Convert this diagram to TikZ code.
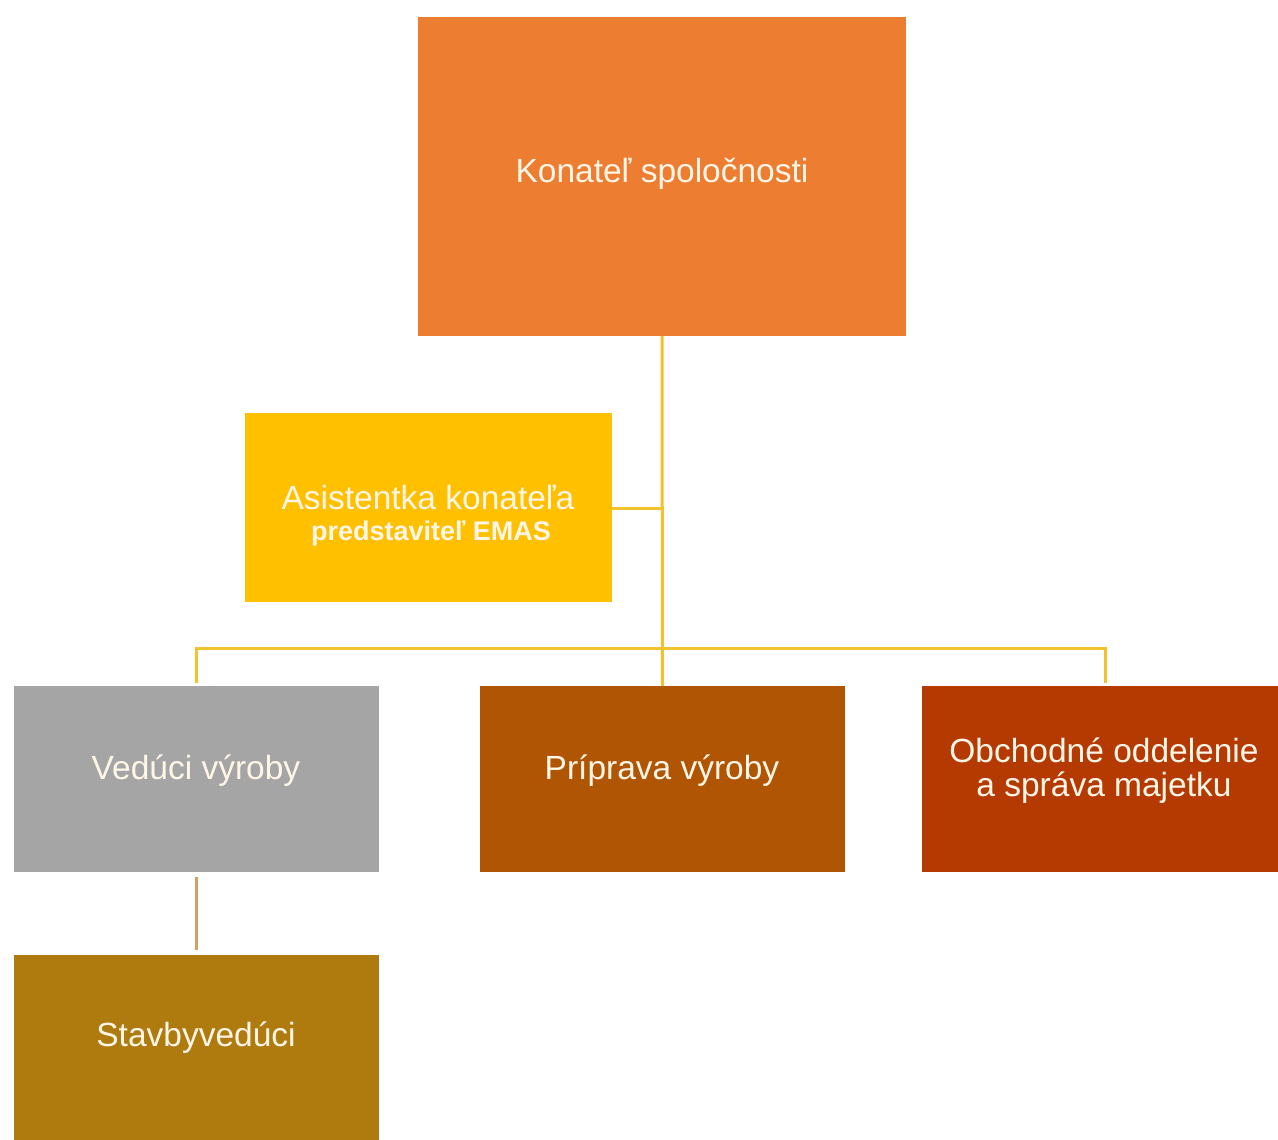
\documentclass[tikz,border=0pt]{standalone}
\usepackage{fontspec}
\setmainfont{Liberation Sans}
\definecolor{ctop}{HTML}{ED7D31}
\definecolor{casist}{HTML}{FFC000}
\definecolor{cgray}{HTML}{A5A5A5}
\definecolor{cprip}{HTML}{B05503}
\definecolor{cobch}{HTML}{B43A02}
\definecolor{cstav}{HTML}{AF7B0F}
\definecolor{cline}{HTML}{F2C12E}
\definecolor{cline2}{HTML}{D4A060}
\definecolor{ctext}{HTML}{FFF6E8}
\begin{document}
\begin{tikzpicture}[x=1pt,y=-1pt,
  box/.style={draw=none,rectangle,inner sep=0pt},
  lbl/.style={text=ctext,align=center,inner sep=0pt,font=\fontsize{33.5}{34}\selectfont},
  conn/.style={draw=cline,line width=3pt},
  conn2/.style={draw=cline2,line width=3pt}]
\useasboundingbox (0,0) rectangle (1278,1140);
% boxes
\node[box,fill=ctop,minimum width=488pt,minimum height=319pt] (top) at (662,176.5) {};
\node[box,fill=casist,minimum width=367pt,minimum height=189pt] (asist) at (428.5,507.5) {};
\node[box,fill=cgray,minimum width=365pt,minimum height=186pt] (ved) at (196.5,779) {};
\node[box,fill=cprip,minimum width=365pt,minimum height=186pt] (prip) at (662.5,779) {};
\node[box,fill=cobch,minimum width=356pt,minimum height=186pt] (obch) at (1100,779) {};
\node[box,fill=cstav,minimum width=365pt,minimum height=185pt] (stav) at (196.5,1047.5) {};
% labels
\node[lbl] (ttop) at (662,174) {Konateľ spoločnosti};
\node[lbl] (tasist1) at (428,498) {Asistentka konateľa};
\node[lbl,font=\bfseries\fontsize{27}{30}\selectfont] (tasist2) at (431,534) {predstaviteľ EMAS};
\node[lbl] (tved) at (196,771) {Vedúci výroby};
\node[lbl] (tprip) at (662,771) {Príprava výroby};
\node[lbl] (tobch) at (1104,771) {Obchodné oddelenie\\a správa majetku};
\node[lbl] (tstav) at (196,1038) {Stavbyvedúci};
% connectors
\coordinate (asj) at (662,508);
\coordinate (barL) at (196,648);
\coordinate (barR) at (1105,648);
\coordinate (obchN) at (1105,683);
\coordinate (vedN) at (196,683);
\draw[conn] (top.south) -- (prip.north);
\draw[conn] (asist.east |- asj) -- (asj);
\draw[conn] (vedN) -- (barL) -- (barR) -- (obchN);
\draw[conn2] ([yshift=-5pt]ved.south) -- ([yshift=5pt]stav.north);
\end{tikzpicture}
\end{document}
